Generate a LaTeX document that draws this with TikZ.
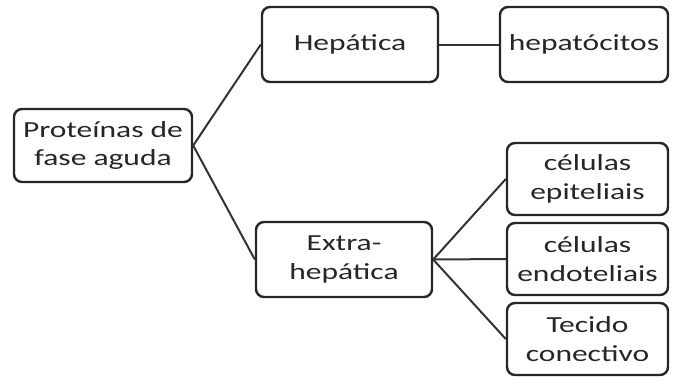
\documentclass[tikz,border=0pt]{standalone}
\usepackage{fontspec}
\setmainfont[FakeStretch=1.37]{Carlito}
\begin{document}
\begin{tikzpicture}[x=1pt,y=-1pt,
  box/.style={draw=black!85, line width=2.4pt, rounded corners=8pt, fill=white,
    align=center, font=\fontsize{23}{28.5}\selectfont, text=black!85, inner sep=0pt},
  link/.style={draw=black!80, line width=2pt}]
\useasboundingbox (0,0) rectangle (675,378);
\node[box, minimum width=178pt, minimum height=73pt] (pfa) at (103,145.5) {Proteínas de\\fase aguda};
\node[box, minimum width=176pt, minimum height=75pt] (hep) at (350,44.5) {Hepática};
\node[box, minimum width=168pt, minimum height=75pt] (hcit) at (584,44.5) {hepatócitos};
\node[box, minimum width=176pt, minimum height=75pt] (ext) at (344,259.5) {Extra-\\hepática};
\node[box, minimum width=161pt, minimum height=72pt] (epi) at (587.5,179) {células\\epiteliais};
\node[box, minimum width=161pt, minimum height=72pt] (endo) at (587.5,259) {células\\endoteliais};
\node[box, minimum width=161pt, minimum height=72pt] (tec) at (587.5,339) {Tecido\\conectivo};
\draw[link] (pfa.east) -- (hep.west);
\draw[link] (pfa.east) -- (ext.west);
\draw[link] (hep.east) -- (hcit.west);
\draw[link] (ext.east) -- (epi.west);
\draw[link] (ext.east) -- (endo.west);
\draw[link] (ext.east) -- (tec.west);
\end{tikzpicture}
\end{document}
